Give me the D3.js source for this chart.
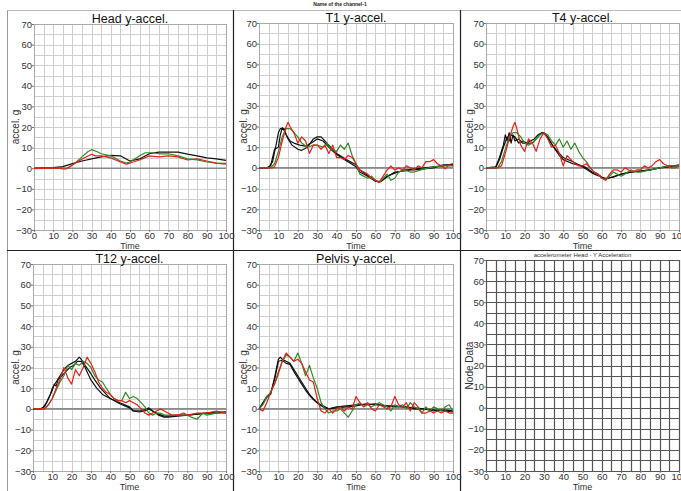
<!DOCTYPE html>
<html><head><meta charset="utf-8">
<script src="https://cdn.jsdelivr.net/npm/d3@7"></script>
<style>
body{margin:0;background:#fff}
svg{display:block}
text{font-family:"Liberation Sans",Arial,Helvetica,sans-serif}
</style>
</head><body>
<svg id="chart" width="681" height="491"></svg>
<script>
// ---------- data ----------
const xTicks = [0,10,20,30,40,50,60,70,80,90,100];
const yTicks = [-30,-20,-10,0,10,20,30,40,50,60,70];
const xGrid = [0,5,10,15,20,25,30,35,40,45,50,55,60,65,70,75,80,85,90,95,100];
const yGrid = [-30,-25,-20,-15,-10,-5,0,5,10,15,20,25,30,35,40,45,50,55,60,65,70];
const panelTitles = ["Head y-accel.","T1 y-accel.","T4 y-accel.","T12 y-accel.","Pelvis y-accel.","accelerometer Head - Y Acceleration"];

const headBlack = [[0,0],[5,0.2],[10,0.3],[15,0.8],[20,2.2],[25,3.5],[30,4.5],[35,5.5],[40,6.2],[45,6],[48,4.5],[50,3.5],[55,4.5],[60,7],[65,7.8],[70,7.8],[75,7.8],[80,6.8],[85,6],[90,5],[95,4.5],[100,3.8]];
const headGreen = [[0,0],[10,0],[15,0],[18,0.2],[20,1.5],[25,5.5],[28,8],[30,9],[33,8],[35,7],[40,6],[45,3.5],[48,2.5],[50,3],[55,6],[58,7.5],[62,7.5],[65,7],[70,7],[75,6],[80,4.5],[85,4],[90,3],[95,2.5],[100,2.3]];
const headRed = [[0,-0.2],[10,0],[13,0],[15,-0.4],[17,-0.3],[20,1.5],[25,4.5],[30,6.8],[32,6],[35,6],[40,5],[45,3],[48,2],[50,2.5],[55,4],[60,6],[65,5.5],[70,6],[75,5.5],[80,4],[85,4.5],[90,3.5],[95,2.5],[100,2]];

const t1Black1 = [[0,0],[4,0],[6,1],[7,5],[8,9],[10,10],[11,16],[12,19.5],[13,18],[15,14],[17,11],[20,9],[22,8.5],[25,10],[28,14],[30,15],[32,15],[35,12],[40,7],[45,4],[50,1.5],[52,-1],[55,-3],[60,-6],[62,-7],[65,-5],[70,-2],[75,-1.5],[80,-0.5],[85,0],[90,0.5],[95,1],[100,2]];
const t1Black2 = [[0,0],[5,0],[7,3],[9,12],[10,17],[11,19],[13,19],[14,16],[16,13],[18,12],[21,11],[24,10.5],[27,12],[30,14],[33,13],[36,10],[40,6.5],[45,3.5],[50,0.5],[52,-2],[56,-4],[60,-6.5],[63,-6.5],[66,-4],[70,-2.5],[75,-1],[80,-1],[85,-0.5],[90,0],[95,1.5],[100,1.5]];
const t1Green = [[0,0],[6,0],[8,2],[10,8],[12,15],[14,19],[16,19],[18,17],[20,15],[22,12],[25,10],[28,11],[30,11],[33,10],[35,12],[37,9],[40,8],[42,11],[44,9],[46,12],[48,6],[50,2],[52,-3],[54,-4],[56,-5],[58,-4],[60,-6],[62,-7],[64,-5],[66,-3],[68,-6],[70,-5],[72,-2],[75,-1],[78,-2],[80,-2],[85,-0.5],[90,0.5],[95,1],[100,1]];
const t1Red = [[0,0],[7,0],[8,0.5],[10,5],[12,13],[14,20],[15,22],[16,20],[18,17],[20,12],[22,15],[24,13],[26,7],[28,11],[30,11],[32,9],[34,11],[36,7],[38,11],[40,5],[42,5],[44,4],[46,6],[48,5],[50,2],[52,-1],[54,-2],[56,-3],[58,-5],[60,-6],[62,-7],[64,-4],[66,-1],[68,1],[70,-1],[72,0],[74,-1],[76,1],[78,0],[80,-1],[82,1],[84,0],[86,3],[88,3],[90,4],[92,2],[94,1],[96,-0.5],[98,1.5],[100,1]];

const t4Black1 = [[0,0],[5,0.5],[7,5],[9,11],[10,16],[11,13],[12,17],[13,12],[14,16],[15,13],[17,14],[19,12],[21,12],[23,13],[25,14],[27,16],[29,17],[30,17],[32,15],[35,10],[38,6],[40,4],[45,2],[50,1],[52,0],[55,-2],[58,-3],[60,-4.5],[62,-5.5],[65,-4.5],[70,-3],[75,-2],[80,-1.5],[85,-1],[90,0],[95,0.5],[100,1.5]];
const t4Black2 = [[0,0],[5,0],[7,4],[9,10],[11,15],[12,13],[13,16],[15,15],[17,12],[19,13],[21,12],[24,12],[27,15],[29,17],[31,16],[33,13],[36,9],[40,5],[45,3],[50,0.5],[55,-2.5],[60,-4.5],[62,-5],[66,-4.5],[70,-3],[75,-2],[80,-1.5],[85,-1],[90,0],[95,1],[100,1]];
const t4Green = [[0,0],[6,0],[8,3],[10,9],[12,15],[14,17],[16,17],[18,15],[20,12],[22,11],[24,12],[26,14],[28,16],[30,17],[32,16],[34,13],[36,11],[38,14],[40,10],[42,13],[44,9],[46,12],[48,8],[50,5],[52,3],[54,0],[56,-2],[58,-3],[60,-5],[62,-5.5],[64,-4],[66,-2],[68,-3],[70,-4],[72,-3],[75,-1],[78,-2],[80,-2],[85,-1],[90,0],[95,1],[100,1]];
const t4Red = [[0,0],[6,0],[8,1],[10,7],[12,14],[14,20],[15,22],[16,19],[18,11],[20,8],[22,14],[24,12],[26,8],[28,14],[30,17],[32,14],[34,10],[36,11],[38,7],[40,1],[42,6],[44,4],[46,2],[48,1],[50,1],[52,2],[54,0],[56,-2],[58,-3],[60,-5],[62,-6],[64,-3],[66,-1],[68,-1],[70,-2],[72,0],[74,-1],[76,-2],[78,-1],[80,-1],[82,1],[84,0],[86,1],[88,3],[90,4],[92,2],[94,1],[96,0],[98,0],[100,1]];

const t12Black1 = [[0,0],[4,0],[5,0.5],[7,3],[9,7],[10,10],[12,13],[14,16],[16,19],[18,21],[20,22],[22,23],[24,25],[25,24],[27,21],[30,17],[32,14],[35,10],[38,7],[40,5],[45,3],[50,1],[52,-1],[55,-1.5],[58,-1],[60,0],[62,-1],[65,-2.5],[68,-3.5],[70,-3.5],[75,-3],[80,-3],[85,-2.5],[90,-2],[95,-1.5],[100,-1.5]];
const t12Black2 = [[0,0],[4,0],[6,1],[8,5],[10,9],[11,12],[12,11],[13,14],[15,16],[17,18],[19,20],[21,21],[23,23],[25,23],[27,20],[30,14],[33,10],[36,7],[40,5],[45,2.5],[50,0.5],[52,-1],[55,-1],[58,-0.5],[60,0.5],[62,-1],[65,-3],[68,-4],[70,-4],[75,-3.5],[80,-3],[85,-2.5],[90,-2],[95,-2],[100,-1.5]];
const t12Green = [[0,0],[6,0],[8,2],[10,5],[12,9],[14,13],[16,16],[18,21],[20,19],[22,22],[24,21],[26,23],[28,22],[30,20],[32,16],[34,14],[36,13],[38,10],[40,7],[42,5],[44,4],[46,4],[48,8],[50,5],[52,6],[54,5],[56,3],[58,1],[60,-2],[62,-3],[64,-2],[66,-2],[68,-3],[70,-3],[75,-3],[80,-3],[82,-4],[85,-5],[88,-2],[90,-3],[95,-2],[100,-2]];
const t12Red = [[0,0],[6,0],[8,2],[10,5],[12,10],[14,14],[16,20],[18,15],[20,12],[22,19],[24,16],[26,20],[28,25],[30,22],[32,18],[34,13],[36,10],[38,8],[40,7],[42,5],[44,4],[46,4],[48,3],[50,4],[52,3],[54,2],[56,0],[58,-2],[60,-3],[62,-2],[64,-1],[66,0],[68,-1],[70,-2],[72,-3],[75,-3],[78,-2],[80,-3],[85,-2],[88,-2],[90,-2],[95,-1],[100,-2]];

const pelvisBlack1 = [[0,0],[2,3],[4,6],[6,7],[8,15],[10,24],[11,25],[12,24],[14,23],[16,22],[18,19],[20,16],[22,13],[24,10],[26,7],[28,5],[30,3],[32,2],[34,1],[36,0],[40,0.5],[45,1],[50,1.5],[55,2.5],[60,2],[65,1.5],[70,1.5],[75,1],[80,0.5],[85,0],[90,-0.5],[95,-1],[100,-1.5]];
const pelvisBlack2 = [[0,0],[2,2.5],[4,5.5],[6,7.5],[8,14],[10,23],[12,23.5],[14,22],[16,21.5],[18,18],[20,15],[22,12],[24,9],[26,6.5],[28,4.5],[30,3],[32,1.5],[34,0.5],[36,0],[40,1],[45,1.5],[50,2],[55,2],[60,2.5],[65,1.5],[70,1],[75,1],[80,0],[85,0],[90,-1],[95,-0.5],[100,-1]];
const pelvisGreen = [[0,0],[2,2],[4,6],[6,8],[8,12],[10,18],[12,23],[14,26],[16,25],[18,23],[20,27],[22,22],[24,16],[26,21],[28,15],[30,10],[32,3],[34,0],[36,-2],[38,-1],[40,-1],[42,0],[44,-2],[46,-4],[48,-1],[50,2],[52,3],[54,1],[56,2],[58,1],[60,2],[62,3],[64,2],[66,1],[68,-1],[70,2],[72,1],[74,2],[76,0],[78,3],[80,1],[82,0],[84,-2],[86,1],[88,-1],[90,1],[92,0],[94,-1],[96,1],[98,2],[100,-1]];
const pelvisRed = [[0,0],[2,-1],[4,3],[6,8],[8,12],[10,17],[12,23],[14,27],[16,25],[18,23],[20,24],[22,22],[24,18],[26,14],[28,13],[30,5],[32,-1],[34,-2],[36,0],[38,-2],[40,0],[42,1],[44,-1],[46,1],[48,0],[50,6],[52,3],[54,1],[56,3],[58,0],[60,-1],[62,2],[64,1],[66,0],[68,1],[70,6],[72,2],[74,1],[76,3],[78,-1],[80,3],[82,1],[84,-2],[86,-2],[88,-1],[90,-2],[92,-1],[94,-2],[96,-1],[98,-2],[100,-2]];

const seriesColors = {black:"#111111", green:"#2e8b22", red:"#e8201a"};

// ---------- layout ----------
const svg = d3.select("#chart");
svg.append("rect").attr("width",681).attr("height",491).attr("fill","#fff");

svg.append("text").attr("x",340).attr("y",6).attr("text-anchor","middle")
  .attr("font-size",5).attr("font-weight","bold").attr("fill","#222").text("Name of the channel-1");

// outer frame
const frame = svg.append("g");
frame.append("line").attr("x1",7.5).attr("x2",7.5).attr("y1",10).attr("y2",491).attr("stroke","#999");
frame.append("line").attr("x1",7).attr("x2",681).attr("y1",10.5).attr("y2",10.5).attr("stroke","#bbb");
[233.5,460.5].forEach(x=>frame.append("line").attr("x1",x).attr("x2",x).attr("y1",10).attr("y2",491).attr("stroke","#222").attr("stroke-width",1.2));
frame.append("line").attr("x1",7).attr("x2",681).attr("y1",250.5).attr("y2",250.5).attr("stroke","#222").attr("stroke-width",1.2);

const panels = [
  {x0:34,x1:226,y0:24,y1:230,title:panelTitles[0],ylab:"accel. g",ylx:15,series:[[headBlack,"black"],[headGreen,"green"],[headRed,"red"]]},
  {x0:259,x1:453,y0:23,y1:230,title:panelTitles[1],ylab:"accel. g",ylx:243,series:[[t1Black1,"black"],[t1Black2,"black"],[t1Green,"green"],[t1Red,"red"]]},
  {x0:486,x1:679,y0:23,y1:230,title:panelTitles[2],ylab:"accel. g",ylx:469,series:[[t4Black1,"black"],[t4Black2,"black"],[t4Green,"green"],[t4Red,"red"]]},
  {x0:33,x1:226,y0:264,y1:471,title:panelTitles[3],ylab:"accel. g",ylx:15,series:[[t12Black1,"black"],[t12Black2,"black"],[t12Green,"green"],[t12Red,"red"]]},
  {x0:259,x1:453,y0:264,y1:471,title:panelTitles[4],ylab:"accel. g",ylx:243,series:[[pelvisBlack1,"black"],[pelvisBlack2,"black"],[pelvisGreen,"green"],[pelvisRed,"red"]]},
  {x0:486,x1:679,y0:260,y1:471,title:panelTitles[5],ylab:"Node Data",ylx:469,series:[],empty:true}
];

panels.forEach(p=>{
  const g = svg.append("g");
  const x = d3.scaleLinear().domain([0,100]).range([p.x0,p.x1]);
  const y = d3.scaleLinear().domain([-30,70]).range([p.y1,p.y0]);
  const gridColor = p.empty ? "#555" : "#cfcfcf";
  const gridW = p.empty ? 1.2 : 1;
  g.selectAll(".vg").data(xGrid).enter().append("line")
    .attr("x1",d=>Math.round(x(d))+0.5).attr("x2",d=>Math.round(x(d))+0.5)
    .attr("y1",p.y0).attr("y2",p.y1).attr("stroke",gridColor).attr("stroke-width",gridW);
  g.selectAll(".hg").data(yGrid).enter().append("line")
    .attr("y1",d=>Math.round(y(d))+0.5).attr("y2",d=>Math.round(y(d))+0.5)
    .attr("x1",p.x0).attr("x2",p.x1).attr("stroke",gridColor).attr("stroke-width",gridW);
  g.append("rect").attr("x",p.x0+0.5).attr("y",p.y0+0.5).attr("width",p.x1-p.x0).attr("height",p.y1-p.y0)
    .attr("fill","none").attr("stroke",p.empty?"#555":"#aaa");
  if(!p.empty){
    g.append("line").attr("x1",p.x0).attr("x2",p.x1).attr("y1",y(0)).attr("y2",y(0))
      .attr("stroke","#8a8a8a").attr("stroke-width",1.6);
  }
  // axes
  const ax = g.append("g").attr("transform",`translate(0,${p.y1})`)
    .call(d3.axisBottom(x).tickValues(xTicks).tickSize(2).tickPadding(0).tickFormat(d3.format("d")));
  const ay = g.append("g").attr("transform",`translate(${p.x0},0)`)
    .call(d3.axisLeft(y).tickValues(yTicks).tickSize(2).tickPadding(0).tickFormat(d3.format("d")));
  [ax,ay].forEach(a=>{
    a.select(".domain").remove();
    a.selectAll("line").attr("stroke","#777");
    a.selectAll("text").attr("font-size",9.5).attr("fill","#333").attr("font-family","Liberation Sans, Arial, sans-serif");
  });
  // title
  if(p.empty){
    g.append("text").attr("x",(p.x0+p.x1)/2).attr("y",p.y0-3).attr("text-anchor","middle")
      .attr("font-size",6).attr("fill","#333").text(p.title);
  } else {
    g.append("text").attr("x",(p.x0+p.x1)/2).attr("y",p.y0-1).attr("text-anchor","middle")
      .attr("font-size",12.5).attr("fill","#111").text(p.title);
  }
  // axis labels
  g.append("text").attr("x",(p.x0+p.x1)/2).attr("y",p.y1+18.5).attr("text-anchor","middle")
    .attr("font-size",9).attr("fill","#333").text("Time");
  g.append("text").attr("transform",`translate(${p.ylx+4},${(p.y0+p.y1)/2}) rotate(-90)`)
    .attr("text-anchor","middle").attr("font-size",10).attr("fill","#333").text(p.ylab);
  // series
  const line = d3.line().x(d=>x(d[0])).y(d=>y(d[1]));
  p.series.forEach(([data,col])=>{
    g.append("path").datum(data).attr("d",line).attr("fill","none")
      .attr("stroke",seriesColors[col]).attr("stroke-width",1.2).attr("stroke-linejoin","round");
  });
});
</script>
</body></html>
